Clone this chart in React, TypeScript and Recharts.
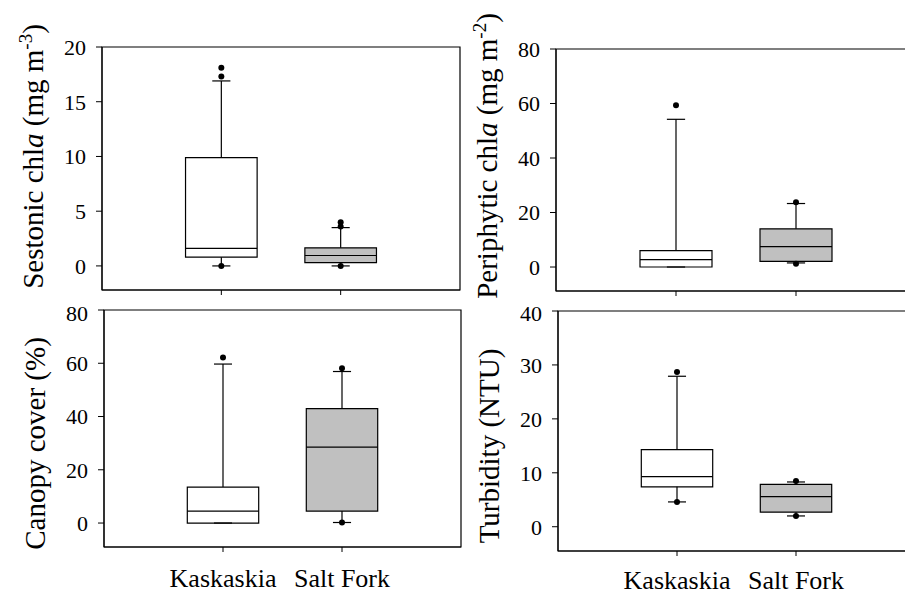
import React from "react";
import { ComposedChart, XAxis, YAxis, Scatter, ReferenceArea, ReferenceLine } from "recharts";

const FONT = "Liberation Serif";

const sites = ["Kaskaskia", "Salt Fork"];

// per site: [lower whisker, q1, median, q3, upper whisker]
const sestonicStats = [
  [0, 0.8, 1.6, 9.9, 16.9],
  [0, 0.3, 0.95, 1.65, 3.5],
];
const sestonicOutliers = [
  [0, 17.3, 18.1],
  [0, 3.6, 4.0],
];

const periphyticStats = [
  [0, 0, 2.7, 6.0, 54.2],
  [1.5, 2.1, 7.5, 14.0, 23.3],
];
const periphyticOutliers = [[59.4], [1.2, 23.8]];

const canopyStats = [
  [0, 0, 4.5, 13.5, 59.7],
  [0.2, 4.5, 28.5, 43.0, 56.9],
];
const canopyOutliers = [[62.2], [0.2, 58.1]];

const turbidityStats = [
  [4.6, 7.4, 9.3, 14.3, 27.9],
  [2.0, 2.7, 5.6, 7.85, 8.3],
];
const turbidityOutliers = [
  [4.6, 28.7],
  [2.0, 8.5],
];

const boxFills = ["#ffffff", "#c0c0c0"];

function TitleLabel(props: any) {
  const vb = props.viewBox || { x: 0, y: 0, width: 0, height: 0 };
  const cx = vb.x + vb.width - 59;
  const cy = vb.y + vb.height / 2 + (props.shift || 0);
  return (
    <text
      x={cx}
      y={cy}
      transform={`rotate(-90 ${cx} ${cy})`}
      textAnchor="middle"
      fontSize={29}
      fontFamily={FONT}
      fill="#000"
    >
      {props.title}
    </text>
  );
}

function BoxPanel(props: any) {
  const {
    stats, outliers, domain, ticks, title, shift, labels,
    left, top, width, height, margin, yWidth, xHeight, xTickMargin,
  } = props;
  const points = outliers.flatMap((vals: number[], i: number) =>
    vals.map((v) => ({ x: i + 1, y: v }))
  );
  const cap = 0.076;
  const half = 0.3;
  return (
    <div style={{ position: "absolute", left, top }}>
      <ComposedChart width={width} height={height} margin={margin}>
        <XAxis
          type="number"
          dataKey="x"
          domain={[0, 3]}
          ticks={[1, 2]}
          allowDataOverflow
          height={xHeight}
          tickSize={5}
          tickMargin={xTickMargin}
          stroke="#000"
          tickFormatter={(v: number) => (labels ? sites[v - 1] : "")}
          tick={{ fontSize: 26, fill: "#000", fontFamily: FONT }}
        />
        <YAxis
          type="number"
          dataKey="y"
          domain={domain}
          ticks={ticks}
          allowDataOverflow
          width={yWidth}
          tickSize={6}
          tickMargin={10}
          stroke="#000"
          tick={{ fontSize: 22, fill: "#000", fontFamily: FONT }}
          label={<TitleLabel title={title} shift={shift} />}
        />
        <ReferenceArea
          x1={0}
          x2={3}
          y1={domain[0]}
          y2={domain[1]}
          fill="none"
          fillOpacity={0}
          stroke="#000"
          strokeWidth={1.2}
          ifOverflow="visible"
        />
        {stats.map((s: number[], i: number) => {
          const pos = i + 1;
          const [lo, q1, , q3, hi] = s;
          return [
            <ReferenceLine key={`wu${i}`} segment={[{ x: pos, y: q3 }, { x: pos, y: hi }]} stroke="#000" strokeWidth={1.2} />,
            <ReferenceLine key={`wl${i}`} segment={[{ x: pos, y: lo }, { x: pos, y: q1 }]} stroke="#000" strokeWidth={1.2} />,
            <ReferenceLine key={`cu${i}`} segment={[{ x: pos - cap, y: hi }, { x: pos + cap, y: hi }]} stroke="#000" strokeWidth={1.2} />,
            <ReferenceLine key={`cl${i}`} segment={[{ x: pos - cap, y: lo }, { x: pos + cap, y: lo }]} stroke="#000" strokeWidth={1.2} />,
          ];
        })}
        {stats.map((s: number[], i: number) => (
          <ReferenceArea
            key={`b${i}`}
            x1={i + 1 - half}
            x2={i + 1 + half}
            y1={s[1]}
            y2={s[3]}
            fill={boxFills[i]}
            fillOpacity={1}
            stroke="#000"
            strokeWidth={1.2}
          />
        ))}
        {stats.map((s: number[], i: number) => (
          <ReferenceLine
            key={`m${i}`}
            segment={[{ x: i + 1 - half, y: s[2] }, { x: i + 1 + half, y: s[2] }]}
            stroke="#000"
            strokeWidth={1.2}
          />
        ))}
        <Scatter
          data={points}
          dataKey="y"
          isAnimationActive={false}
          shape={(p: any) => <circle cx={p.cx} cy={p.cy} r={3} fill="#000" />}
        />
      </ComposedChart>
    </div>
  );
}

export default function App() {
  return (
    <div
      style={{
        position: "absolute",
        left: 0,
        top: 0,
        width: 905,
        height: 594,
        overflow: "hidden",
        background: "#fff",
      }}
    >
      <BoxPanel
        stats={sestonicStats}
        outliers={sestonicOutliers}
        domain={[-2.2, 20]}
        ticks={[0, 5, 10, 15, 20]}
        title={
          <>
            <tspan>Sestonic chl</tspan>
            <tspan fontStyle="italic">a</tspan>
            <tspan>{" (mg m"}</tspan>
            <tspan fontSize={19} dy={-11}>-3</tspan>
            <tspan dy={11}>)</tspan>
          </>
        }
        shift={-12}
        labels={false}
        left={0}
        top={0}
        width={470}
        height={300}
        margin={{ top: 47, right: 10, bottom: 0, left: 0 }}
        yWidth={102}
        xHeight={10}
        xTickMargin={2}
      />
      <BoxPanel
        stats={periphyticStats}
        outliers={periphyticOutliers}
        domain={[-8.8, 80]}
        ticks={[0, 20, 40, 60, 80]}
        title={
          <>
            <tspan>Periphytic chl</tspan>
            <tspan fontStyle="italic">a</tspan>
            <tspan>{" (mg m"}</tspan>
            <tspan fontSize={19} dy={-11}>-2</tspan>
            <tspan dy={11}>)</tspan>
          </>
        }
        shift={-14}
        labels={false}
        left={460}
        top={0}
        width={460}
        height={301}
        margin={{ top: 49, right: 4, bottom: 0, left: 0 }}
        yWidth={96}
        xHeight={10}
        xTickMargin={2}
      />
      <BoxPanel
        stats={canopyStats}
        outliers={canopyOutliers}
        domain={[-9, 80]}
        ticks={[0, 20, 40, 60, 80]}
        title="Canopy cover (%)"
        shift={15}
        labels={true}
        left={0}
        top={300}
        width={470}
        height={294}
        margin={{ top: 10, right: 9, bottom: 0, left: 0 }}
        yWidth={104}
        xHeight={47}
        xTickMargin={17}
      />
      <BoxPanel
        stats={turbidityStats}
        outliers={turbidityOutliers}
        domain={[-4.5, 40]}
        ticks={[0, 10, 20, 30, 40]}
        title="Turbidity (NTU)"
        shift={15}
        labels={true}
        left={460}
        top={300}
        width={460}
        height={294}
        margin={{ top: 11, right: 5, bottom: 0, left: 0 }}
        yWidth={98}
        xHeight={43}
        xTickMargin={15}
      />
    </div>
  );
}
